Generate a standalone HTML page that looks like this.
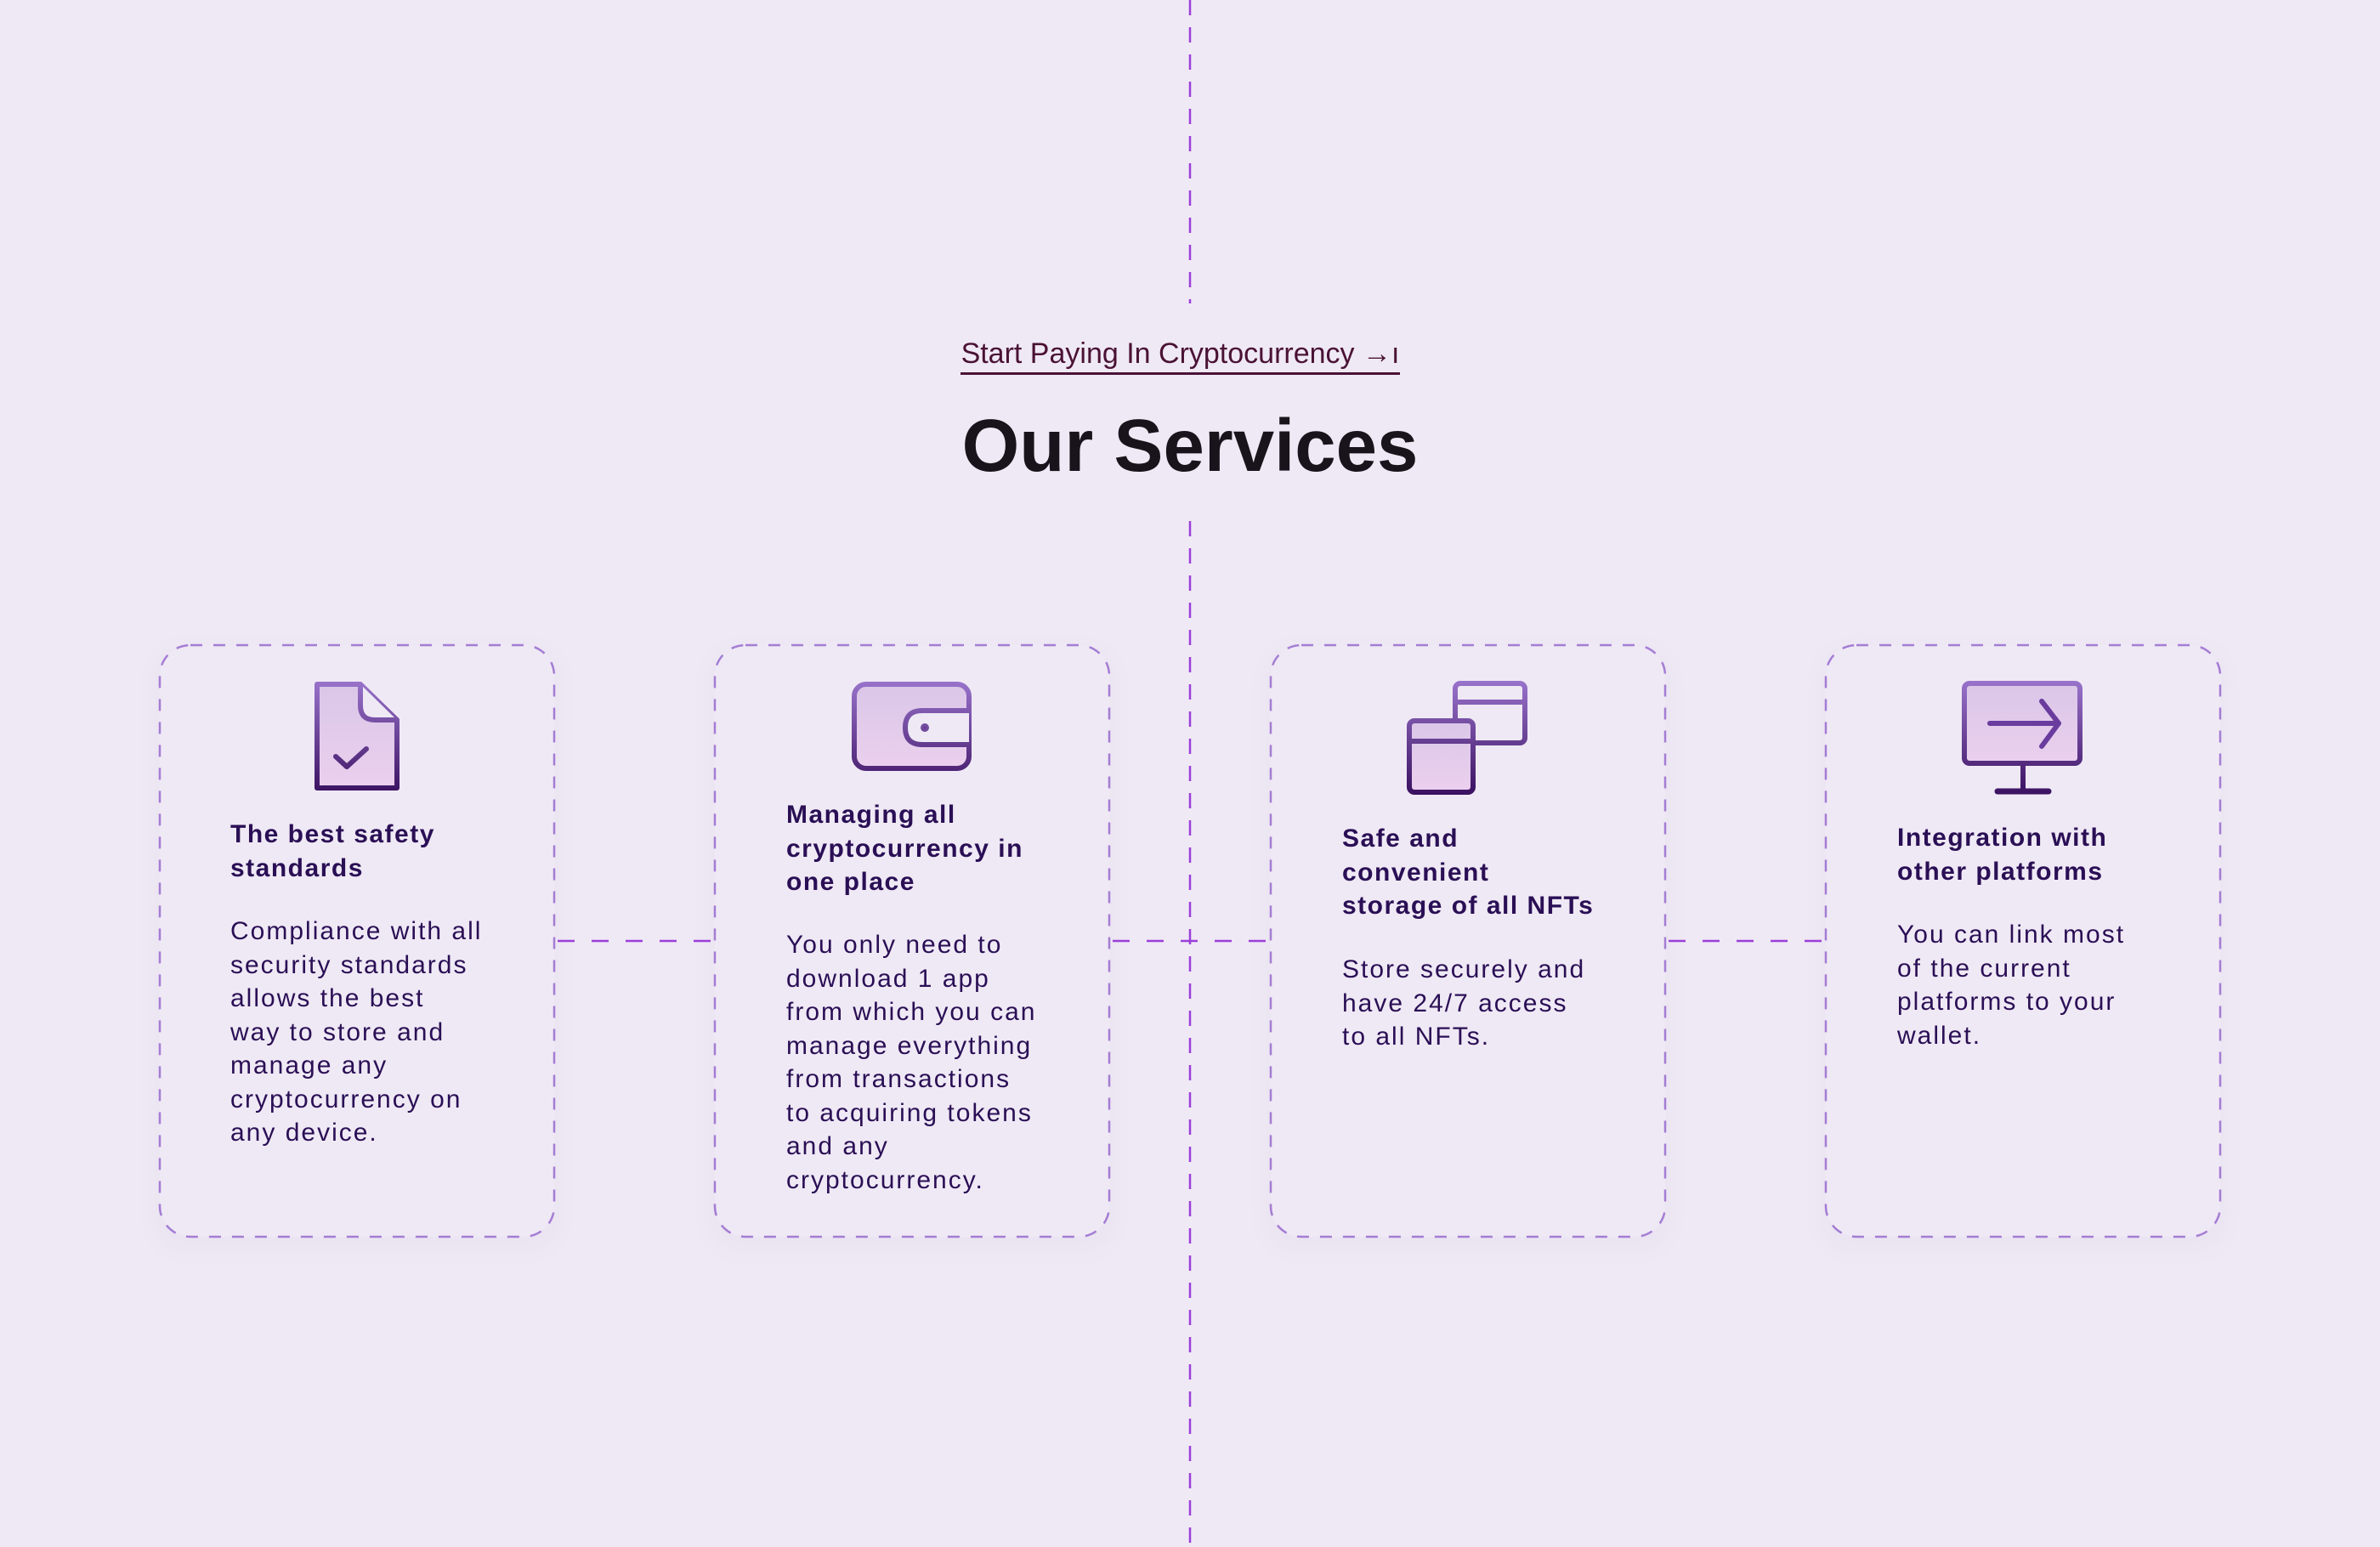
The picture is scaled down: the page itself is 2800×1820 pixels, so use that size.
<!DOCTYPE html>
<html><head><meta charset="utf-8"><style>
html,body{margin:0;padding:0}
body{width:2800px;height:1820px;background:#efe9f5;position:relative;overflow:hidden;font-family:"Liberation Sans",sans-serif}
svg{position:absolute;left:0;top:0}
.t{position:absolute;color:#2a0f55;font-size:30px;line-height:39.5px;letter-spacing:2px;white-space:nowrap}
.h{font-weight:bold;letter-spacing:1.5px}
.link{position:absolute;left:1130px;top:394px;width:517px;text-align:center;font-size:34px;color:#4a1235;line-height:44px;border-bottom:3px solid #4a1235;white-space:nowrap}
.title{position:absolute;left:1000px;width:800px;top:470px;text-align:center;font-size:87px;font-weight:bold;color:#19141c;line-height:110px}
</style></head><body>
<svg width="2800" height="1820" viewBox="0 0 2800 1820">
<defs>
<linearGradient id="f" x1="0" y1="0" x2="0" y2="1"><stop offset="0" stop-color="#dac6e8"/><stop offset="1" stop-color="#ebd0ee"/></linearGradient>
<linearGradient id="s" x1="0" y1="800" x2="0" y2="935" gradientUnits="userSpaceOnUse"><stop offset="0" stop-color="#9a74cc"/><stop offset="1" stop-color="#3a1060"/></linearGradient>
<filter id="sh" x="-10%" y="-10%" width="120%" height="120%"><feGaussianBlur stdDeviation="10"/></filter>
</defs>
<g fill="#ebe4f2" filter="url(#sh)">
<rect x="178" y="759" width="484" height="716" rx="40"/>
<rect x="831" y="759" width="484" height="716" rx="40"/>
<rect x="1485" y="759" width="484" height="716" rx="40"/>
<rect x="2138" y="759" width="484" height="716" rx="40"/>
</g>
<g fill="#efe9f5" stroke="#a47dd4" stroke-width="2.5" stroke-dasharray="14 13">
<rect x="188" y="759" width="464" height="696" rx="36"/>
<rect x="841" y="759" width="464" height="696" rx="36"/>
<rect x="1495" y="759" width="464" height="696" rx="36"/>
<rect x="2148" y="759" width="464" height="696" rx="36"/>
</g>
<g stroke="#9a3fd8" stroke-width="2.5" stroke-dasharray="18 14">
<line x1="1400" y1="0" x2="1400" y2="357"/>
<line x1="1400" y1="613" x2="1400" y2="1820"/>
</g>
<g stroke="#9a3fd8" stroke-width="2.5" stroke-dasharray="20 20">
<line x1="656" y1="1107" x2="838" y2="1107"/>
<line x1="1309" y1="1107" x2="1492" y2="1107"/>
<line x1="1963" y1="1107" x2="2145" y2="1107"/>
</g>
<g stroke="url(#s)" stroke-width="6" stroke-linejoin="round" stroke-linecap="round">
<path d="M373 805 H424 L467 847 V927 H373 Z" fill="url(#f)"/>
<path d="M424 805 V830 Q424 847 441 847 H467" fill="#efe9f5"/>
<path d="M395 890 L408 902 L431 881" fill="none"/>
</g>
<g stroke="url(#s)" stroke-width="6" stroke-linejoin="round" stroke-linecap="round">
<rect x="1005" y="805" width="135" height="99" rx="14" fill="url(#f)"/>
<path d="M1140 836 H1085 Q1065 836 1065 856 Q1065 876 1085 876 H1140" fill="#efe9f5"/>
<circle cx="1088" cy="856" r="2" fill="#5b2a8a"/>
</g>
<g stroke="url(#s)" stroke-width="6" stroke-linejoin="round">
<rect x="1712" y="804" width="82" height="70" rx="6" fill="#efe9f5"/>
<path d="M1712 826 H1794" fill="none"/>
<rect x="1658" y="848" width="75" height="84" rx="6" fill="url(#f)"/>
<path d="M1658 872 H1733" fill="none"/>
</g>
<g stroke="url(#s)" stroke-width="6" stroke-linejoin="round" stroke-linecap="round">
<rect x="2311" y="804" width="136" height="94" rx="6" fill="url(#f)"/>
<path d="M2380 898 V930" fill="none"/>
<path d="M2350 931 H2410" stroke-width="7" fill="none"/>
<path d="M2341 851 H2422 M2402 825 L2422 851 L2402 878" fill="none" stroke="#6a3c9e"/>
</g>
</svg>
<div class="link">Start Paying In Cryptocurrency →ı</div>
<div class="title">Our Services</div>

<div class="t h" style="left:271px;top:962px">The best safety<br>standards</div>
<div class="t" style="left:271px;top:1076px">Compliance with all<br>security standards<br>allows the best<br>way to store and<br>manage any<br>cryptocurrency on<br>any device.</div>

<div class="t h" style="left:925px;top:939px">Managing all<br>cryptocurrency in<br>one place</div>
<div class="t" style="left:925px;top:1092px">You only need to<br>download 1 app<br>from which you can<br>manage everything<br>from transactions<br>to acquiring tokens<br>and any<br>cryptocurrency.</div>

<div class="t h" style="left:1579px;top:967px">Safe and<br>convenient<br>storage of all NFTs</div>
<div class="t" style="left:1579px;top:1121px">Store securely and<br>have 24/7 access<br>to all NFTs.</div>

<div class="t h" style="left:2232px;top:966px">Integration with<br>other platforms</div>
<div class="t" style="left:2232px;top:1080px">You can link most<br>of the current<br>platforms to your<br>wallet.</div>
</body></html>
